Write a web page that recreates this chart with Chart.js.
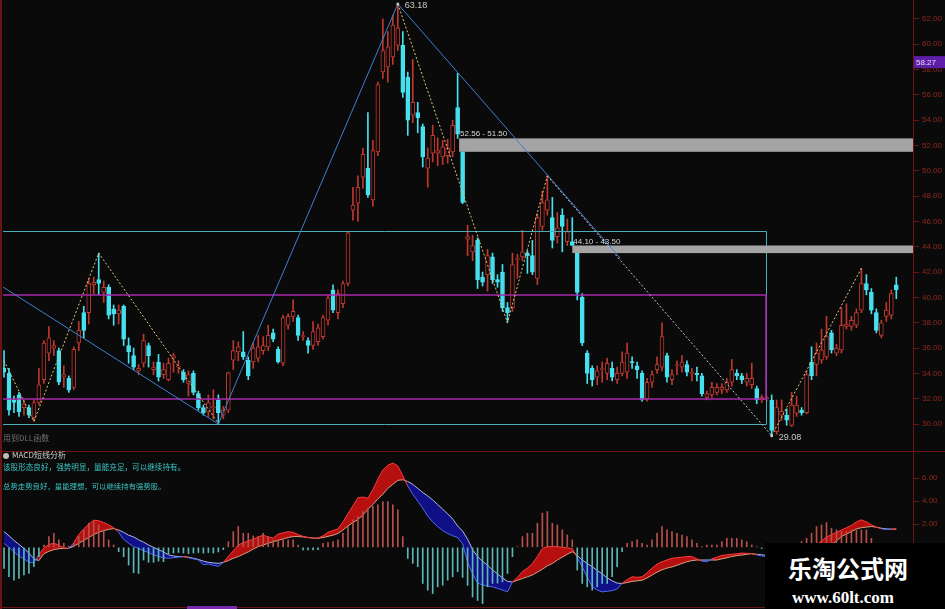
<!DOCTYPE html>
<html>
<head>
<meta charset="utf-8">
<script src="https://cdn.jsdelivr.net/npm/chart.js@4.4.1/dist/chart.umd.min.js"></script>
<style>
  body { margin: 0; background: #0a0a0a; }
  #wrap { position: relative; width: 945px; height: 609px; overflow: hidden; background: #0a0a0a;
          font-family: "Noto Sans CJK SC", "Noto Sans", sans-serif; }
  canvas { position: absolute; left: 0; }
  #c1 { top: 0; }
  #c2 { top: 451px; }
  .line { position: absolute; background: #6a1515; }
  .txt { position: absolute; white-space: nowrap; line-height: 1; }
  #wm { position: absolute; left: 765px; top: 543px; width: 180px; height: 66px; background: #000; }
</style>
</head>
<body>
<div id="wrap">
  <canvas id="c1" width="945" height="451"></canvas>
  <canvas id="c2" width="945" height="158"></canvas>
  <div class="line" style="left:0;top:0;width:2px;height:609px"></div>
  <div class="line" style="left:0;top:451px;width:945px;height:1px"></div>
  <div class="line" style="left:0;top:607px;width:945px;height:1px"></div>
  <div style="position:absolute;left:187px;top:606px;width:50px;height:3px;background:#7a2ab0"></div>

  <div class="txt" style="left:3px;top:434px;font-size:8px;color:#707070">用到DLL函数</div>
  <div class="txt" style="left:3px;top:451px;font-size:8px;color:#d0d0d0">
    <span style="display:inline-block;width:6px;height:6px;border-radius:50%;background:#bbb;vertical-align:-1px;margin-right:3px"></span>MACD短线分析</div>
  <div class="txt" style="left:3px;top:463px;font-size:7.6px;color:#3cc6c6">该股形态良好，强势明显，量能充足，可以继续持有。</div>
  <div class="txt" style="left:3px;top:482px;font-size:7.4px;color:#3cc6c6">总势走势良好，量能理想，可以继续持有强势股。</div>

  <div id="wm">
    <div class="txt" style="left:23px;top:13px;font-size:24px;font-weight:bold;color:#fff">乐淘公式网</div>
    <div class="txt" style="left:27px;top:46px;font-size:17px;font-weight:bold;color:#fff;font-family:'Liberation Serif','DejaVu Serif',serif">www.60lt.com</div>
  </div>
</div>

<script>
// daily candles
const opens = [
  34.4, 34.0, 31.9, 32.3, 31.3, 31.3, 30.5, 31.7, 33.5, 35.6,
  36.0, 35.8, 33.7, 33.6, 32.9, 36.4, 38.8, 38.8, 41.0, 41.4,
  40.4, 40.8, 39.1, 38.7, 39.3, 36.2, 35.4, 34.2, 34.8, 36.2,
  34.3, 34.9, 33.9, 33.5, 35.2, 34.5, 34.1, 33.2, 34.0, 32.4,
  31.3, 30.95, 31.3, 31.9, 30.7, 31.1, 35.05, 35.7, 35.7, 35.05,
  34.9, 35.2, 35.8, 36.1, 37.2, 35.9, 34.8, 37.8, 38.5, 38.4,
  36.9, 36.6, 36.2, 36.5, 36.9, 38.2, 40.6, 38.8, 39.5, 41.1,
  46.9, 47.45, 49.5, 50.2, 47.7, 51.5, 57.8, 58.2, 59.0, 59.9,
  59.9, 57.4, 54.4, 54.6, 53.5, 50.2, 51.4, 51.4, 51.1, 51.2,
  51.5, 55.0, 51.5, 44.6, 43.6, 44.5, 41.6, 41.8, 43.2, 41.4,
  42.0, 39.2, 39.2, 43.0, 43.2, 43.5, 43.3, 41.5, 45.6, 46.9,
  46.3, 44.8, 46.5, 44.4, 44.4, 43.5, 40.0, 35.6, 34.4, 33.7,
  34.3, 34.0, 34.4, 33.5, 34.0, 34.1, 34.9, 34.6, 34.0, 32.0,
  33.3, 34.3, 34.5, 35.4, 33.5, 34.6, 34.5, 34.7, 34.0, 34.0,
  33.8, 32.1, 32.3, 32.5, 32.7, 32.7, 33.3, 34.0, 33.8, 33.3,
  33.1, 32.8, 31.9, 32.0, 31.9, 29.4, 30.7, 30.7, 29.9, 30.85,
  31.1, 30.9, 34.9, 34.7, 35.05, 35.3, 37.2, 35.6, 35.85, 37.7,
  37.7, 37.8, 39.0, 41.1, 40.4, 38.8, 37.0, 38.5, 38.6, 41.0
];
const closes = [
  34.1, 31.1, 31.7, 30.95, 31.6, 30.7, 31.7, 33.1, 36.4, 36.8,
  36.2, 33.3, 33.9, 32.7, 35.9, 37.4, 37.4, 41.1, 41.2, 41.1,
  40.8, 38.6, 38.7, 39.0, 36.7, 35.7, 34.5, 34.4, 36.6, 35.4,
  34.5, 33.7, 34.3, 34.8, 35.4, 34.5, 33.5, 33.9, 32.5, 31.3,
  30.9, 31.7, 31.3, 30.9, 31.1, 34.05, 35.8, 36.1, 35.3, 33.8,
  36.0, 36.1, 36.2, 37.0, 36.7, 34.9, 38.4, 38.5, 38.9, 37.0,
  36.9, 36.2, 37.3, 37.6, 38.4, 39.95, 39.0, 40.3, 41.1, 45.1,
  47.3, 48.7, 51.3, 48.1, 51.6, 56.8, 59.5, 59.8, 61.5, 61.3,
  56.2, 54.0, 55.4, 54.2, 51.1, 51.0, 52.8, 51.6, 51.9, 51.8,
  53.6, 52.9, 47.5, 44.8, 44.1, 41.4, 41.2, 43.3, 41.4, 41.2,
  39.2, 38.8, 42.6, 43.0, 43.6, 43.3, 42.0, 46.3, 47.5, 47.7,
  44.5, 45.5, 45.6, 45.2, 44.1, 40.4, 36.4, 34.0, 33.5, 34.2,
  34.3, 34.8, 33.7, 34.0, 34.9, 35.6, 34.85, 34.3, 31.9, 33.3,
  33.9, 34.7, 36.9, 33.7, 33.9, 34.6, 34.9, 34.1, 34.0, 33.9,
  32.4, 32.4, 32.9, 32.9, 32.9, 33.3, 34.3, 33.8, 33.5, 33.6,
  33.6, 31.9, 32.1, 32.0, 29.5, 31.3, 31.0, 30.3, 31.5, 31.5,
  30.9, 33.9, 33.8, 35.6, 35.85, 36.9, 35.85, 36.0, 37.8, 37.9,
  38.2, 38.8, 41.1, 40.6, 39.0, 37.4, 38.0, 39.0, 40.3, 40.6
];
const highs = [
  35.8, 34.4, 32.2, 32.5, 31.9, 31.5, 31.9, 34.4, 36.6, 37.7,
  36.6, 36.0, 34.6, 33.8, 36.1, 38.1, 39.3, 41.5, 41.6, 43.5,
  41.3, 41.0, 39.4, 39.4, 39.4, 36.8, 36.0, 34.7, 37.1, 36.4,
  34.9, 35.5, 34.8, 35.2, 35.6, 35.0, 34.3, 34.2, 34.2, 32.6,
  31.5, 32.3, 32.7, 32.3, 31.4, 34.1, 36.6, 36.5, 37.3, 35.3,
  36.4, 37.0, 36.9, 37.8, 37.5, 36.1, 38.6, 38.7, 39.8, 38.6,
  37.3, 36.8, 38.1, 37.9, 38.6, 40.2, 41.0, 40.6, 41.3, 45.2,
  48.7, 49.6, 51.8, 54.6, 52.4, 57.0, 62.0, 61.0, 62.3, 63.18,
  61.0, 57.8, 58.8, 55.4, 53.7, 51.8, 53.6, 52.6, 52.4, 52.5,
  54.0, 57.7, 51.5, 45.7, 44.9, 44.7, 42.0, 43.8, 43.5, 41.8,
  42.6, 39.6, 43.5, 43.4, 45.3, 43.7, 44.5, 46.6, 48.4, 49.6,
  47.9, 46.7, 47.0, 46.2, 46.3, 43.5, 40.3, 35.8, 34.6, 34.6,
  34.9, 35.2, 34.9, 34.5, 35.7, 36.4, 35.3, 34.9, 34.2, 33.6,
  34.2, 35.3, 38.0, 35.6, 34.3, 35.0, 35.4, 35.0, 34.4, 34.5,
  34.0, 32.6, 33.3, 33.2, 33.2, 33.6, 35.1, 34.3, 34.0, 34.0,
  34.8, 33.0, 32.3, 32.2, 32.3, 31.9, 31.9, 31.2, 32.5, 32.2,
  31.3, 34.2, 36.1, 36.4, 37.5, 38.5, 37.4, 36.3, 39.2, 39.5,
  38.5, 39.1, 42.3, 41.8, 40.7, 39.1, 38.2, 39.6, 40.6, 41.6
];
const lows = [
  33.7, 30.7, 30.9, 30.6, 30.7, 30.5, 30.2, 31.5, 33.2, 35.0,
  35.4, 33.1, 32.9, 32.5, 32.7, 35.8, 36.8, 37.9, 40.3, 40.2,
  39.6, 38.3, 37.8, 37.9, 36.2, 34.8, 34.3, 33.9, 34.5, 34.5,
  33.9, 33.4, 33.6, 33.4, 34.1, 34.0, 33.3, 32.2, 32.3, 31.1,
  30.7, 30.6, 30.4, 30.0, 30.4, 30.9, 34.3, 35.0, 35.1, 33.5,
  34.4, 34.9, 35.5, 35.8, 36.5, 34.8, 34.6, 37.5, 38.1, 36.6,
  36.6, 35.6, 35.9, 36.2, 36.7, 37.8, 38.8, 38.3, 39.2, 40.9,
  46.1, 46.0, 48.6, 47.9, 47.2, 51.2, 57.3, 57.0, 58.4, 59.5,
  55.8, 52.8, 53.8, 53.0, 50.3, 48.7, 50.7, 50.4, 50.5, 50.6,
  51.1, 52.56, 47.4, 43.3, 42.9, 40.7, 40.9, 40.5, 41.1, 40.8,
  38.9, 38.0, 38.9, 41.5, 42.9, 41.9, 41.8, 41.0, 45.3, 46.5,
  43.9, 44.3, 43.6, 44.1, 44.1, 39.8, 36.2, 33.2, 33.0, 33.1,
  33.3, 33.5, 33.4, 33.2, 33.8, 33.6, 34.4, 33.6, 31.8, 31.8,
  32.9, 34.0, 34.2, 33.3, 33.1, 33.9, 34.1, 33.8, 33.4, 33.4,
  32.2, 31.9, 32.1, 32.3, 32.4, 32.5, 33.0, 33.5, 33.2, 33.0,
  32.8, 31.6, 31.7, 31.8, 29.08, 29.2, 30.3, 29.9, 29.8, 30.6,
  30.7, 30.8, 33.5, 33.8, 34.8, 35.1, 35.6, 35.4, 35.6, 37.5,
  37.4, 37.6, 38.8, 40.2, 38.7, 37.2, 36.8, 38.1, 38.3, 39.9
];

// MACD panel
const difLine = [
  0.35, 0.0, -0.4, -0.75, -1.0, -1.3, -1.35, -0.6, -0.05, 0.25,
  0.35, 0.2, -0.05, -0.1, 0.4, 1.1, 1.6, 2.0, 2.35, 2.3,
  2.15, 1.95, 1.7, 1.3, 0.7, 0.35, 0.05, -0.1, -0.3, -0.45,
  -0.65, -0.8, -0.9, -0.95, -0.9, -0.85, -0.8, -0.9, -1.0, -1.1,
  -1.5, -1.45, -1.55, -1.65, -1.3, -0.8, -0.3, 0.2, 0.4, 0.55,
  0.7, 0.9, 1.05, 0.9, 0.8, 1.15, 1.25, 1.35, 1.3, 1.1,
  0.95, 0.85, 0.8, 0.8, 1.0, 1.3, 1.45, 1.6, 2.2, 2.9,
  3.6, 4.3, 4.35, 4.25, 5.0, 5.9, 6.7, 7.1, 7.3, 7.05,
  6.2, 5.3, 4.6, 4.0, 3.4, 2.7, 2.2, 1.8, 1.45, 1.2,
  1.0, 0.85, 0.3, -1.3, -2.3, -3.1, -3.25, -3.35, -3.42, -3.55,
  -3.7, -3.85, -3.0, -2.6, -2.1, -1.8, -1.4, -0.8, -0.1, 0.06,
  0.06, 0.06, 0.0, -0.05, -0.1, -0.9, -1.7, -2.6, -3.4, -3.7,
  -3.86, -3.8, -3.75, -3.6, -3.1, -2.8, -2.55, -2.6, -2.55, -2.2,
  -1.8, -1.45, -1.25, -1.1, -0.95, -0.9, -0.85, -0.8, -0.8, -1.0,
  -1.2, -1.25, -1.0, -0.85, -0.7, -0.65, -0.6, -0.55, -0.5, -0.52,
  -0.55, -0.65, -0.75, -0.8, -1.1, -1.2, -1.2, -1.15, -1.05, -0.95,
  -0.7, -0.45, -0.15, 0.2, 0.55, 0.9, 1.1, 1.3, 1.5, 1.7,
  1.9, 2.2, 2.38, 2.2, 1.95, 1.75, 1.6, 1.55, 1.58, 1.6
];
const deaLine = [
  1.36, 1.0, 0.6, 0.25, -0.1, -0.5, -1.0, -1.15, -0.55, -0.35,
  -0.2, -0.12, -0.09, -0.08, 0.1, 0.35, 0.6, 0.85, 1.1, 1.3,
  1.45, 1.55, 1.62, 1.5, 1.3, 1.05, 0.9, 0.65, 0.45, 0.2,
  0.0, -0.2, -0.4, -0.65, -0.75, -0.8, -0.81, -0.85, -0.95, -1.05,
  -1.2, -1.3, -1.35, -1.39, -1.3, -1.15, -0.95, -0.8, -0.6, -0.4,
  -0.15, 0.06, 0.2, 0.35, 0.49, 0.6, 0.72, 0.85, 0.93, 0.93,
  0.9, 0.85, 0.8, 0.78, 0.85, 0.95, 1.05, 1.2, 1.5, 1.85,
  2.15, 2.4, 2.8, 3.3, 3.7, 4.2, 4.6, 5.1, 5.45, 5.8,
  5.85, 5.7, 5.45, 5.1, 4.75, 4.45, 4.1, 3.7, 3.3, 2.9,
  2.45, 1.85, 1.4, 0.7, -0.2, -0.8, -1.2, -1.55, -1.95, -2.3,
  -2.65, -2.95, -3.0, -2.85, -2.7, -2.55, -2.4, -2.15, -1.9, -1.6,
  -1.4, -1.1, -0.85, -0.6, -0.38, -0.7, -1.1, -1.4, -1.68, -2.0,
  -2.3, -2.65, -2.9, -3.1, -3.13, -3.05, -2.95, -2.9, -2.85, -2.65,
  -2.4, -2.15, -1.95, -1.8, -1.7, -1.55, -1.4, -1.25, -1.15, -1.1,
  -1.1, -1.1, -1.1, -1.1, -1.0, -0.9, -0.8, -0.72, -0.67, -0.6,
  -0.55, -0.6, -0.65, -0.7, -0.8, -0.9, -0.95, -1.0, -1.0, -1.0,
  -0.95, -0.85, -0.7, -0.5, -0.25, 0.0, 0.2, 0.55, 0.93, 1.15,
  1.35, 1.6, 1.7, 1.75, 1.8, 1.75, 1.65, 1.6, 1.57, 1.57
];
const macdHist = [
  -1.83, -2.55, -2.84, -2.7, -2.4, -2.26, -1.68, -0.8, 0.2, 0.93,
  1.22, 0.64, 0.35, 0.1, 0.35, 0.93, 1.51, 2.09, 2.23, 1.94,
  1.51, 0.64, 0.2, -0.38, -0.81, -1.54, -2.2, -2.26, -1.1, -1.3,
  -1.3, -1.2, -1.25, -0.55, -0.5, -0.45, -0.5, -0.55, -0.5, -0.45,
  -0.5, -0.45, -0.5, -0.4, -0.2, 0.49, 1.36, 1.8, 1.22, 1.22,
  0.99, 0.93, 1.22, 0.93, 0.64, 0.64, 0.64, 0.64, 0.64, 0.2,
  -0.23, -0.23, -0.23, -0.2, 0.35, 0.4, 0.49, 0.64, 1.22, 1.8,
  2.38, 2.67, 3.1, 3.39, 3.54, 3.68, 3.97, 3.97, 3.68, 3.25,
  0.93, -0.96, -1.39, -1.68, -3.13, -3.71, -4.0, -3.42, -3.28, -2.84,
  -2.55, -2.12, -2.6, -3.3, -4.3, -4.6, -4.87, -3.42, -3.13, -3.1,
  -2.99, -2.26, -0.81, 0.05, 0.93, 1.22, 1.22, 2.09, 2.96, 3.1,
  2.09, 1.94, 1.51, 1.07, 0.64, -1.97, -3.13, -3.42, -3.71, -3.42,
  -3.13, -3.13, -2.55, -1.68, -0.38, 0.35, 0.49, 0.64, 0.35, 0.2,
  0.64, 1.22, 1.8, 1.51, 1.36, 1.22, 1.07, 0.93, 0.64, 0.35,
  0.06, 0.2, 0.2, 0.2, 0.49, 0.78, 0.78, 0.78, 0.64, 0.49,
  0.2, 0.05, -0.1, -0.2, -0.6, -0.6, -0.5, -0.3, -0.1, 0.1,
  0.5, 0.78, 1.22, 1.8, 1.94, 2.14, 1.65, 1.51, 1.36, 1.36,
  1.51, 1.51, 1.51, 1.51, 0.78, 0.2, -0.1, -0.1, 0.05, 0.05
];

const priceTicks = [30, 32, 34, 36, 38, 40, 42, 44, 46, 48, 50, 52, 54, 56, 58, 60, 62];
const macdTicks = [-4, -2, 0, 2, 4, 6];

// drawn studies, in (bar index, price)
const yellowZigzags = [
  [[0, 35.0], [6, 30.2], [19, 43.5], [43, 30.05]],
  [[79, 63.18], [101, 38.0], [109, 49.6]],
  [[154, 29.08], [172, 42.3]]
];
const whiteDotted = [[109, 49.6], [154, 29.08]];
const blueLines = [
  [[-0.2, 40.82], [43, 30.0]],
  [[43, 30.0], [79, 63.18]],
  [[79, 63.18], [123.6, 43.1]]
];
const gapZones = [
  { from: 91.3, hi: 52.56, lo: 51.50, label: '52.56 - 51.50' },
  { from: 114.0, hi: 44.10, lo: 43.50, label: '44.10 - 43.50' }
];
const rangeBoxes = [
  { to: 152.9, hi: 45.25, lo: 30.0, color: '#4cacb6', w: 1 },
  { to: 152.9, hi: 40.23, lo: 31.94, color: '#a52aaa', w: 1.6 }
];
const extremes = [[79, 63.18], [154, 29.08]];
const lastTag = 58.27;

const RED = '#bd382e';
const CYAN = '#46e0ee';
const BG = '#0a0a0a';
const AXIS = '#6a1515';
const TICKTXT = '#93291f';

const idx = opens.map((_, i) => i);
const up = idx.map(i => closes[i] >= opens[i]);

const xScale = { type: 'linear', min: -0.2, max: 182.35, display: false, offset: false };

function rightAxis(min, max, ticks) {
  return {
    position: 'right', min: min, max: max,
    afterBuildTicks: s => { s.ticks = ticks.map(v => ({ value: v })); },
    afterFit: s => { s.width = 32; s.paddingTop = 0; s.paddingBottom = 0; },
    grid: { drawOnChartArea: false, color: AXIS, tickColor: AXIS, tickLength: 6 },
    border: { color: AXIS, width: 1 },
    ticks: { color: TICKTXT, padding: 3, autoSkip: false, font: { size: 8, family: 'Liberation Sans' },
             callback: v => Number(v).toFixed(2) }
  };
}

// trend lines, boxes and labels on the price panel
const studies = {
  id: 'studies',
  afterDatasetsDraw(chart) {
    const { ctx, chartArea: a } = chart;
    const px = v => chart.scales.x.getPixelForValue(v);
    const py = v => chart.scales.y.getPixelForValue(v);
    ctx.save();
    ctx.beginPath();
    ctx.rect(a.left, a.top, a.right - a.left, a.bottom - a.top);
    ctx.clip();

    rangeBoxes.forEach(b => {
      const off = b.w === 1 ? 0.5 : 0;
      const t = Math.round(py(b.hi)) + off, btm = Math.round(py(b.lo)) + off, r = Math.round(px(b.to)) + off;
      ctx.strokeStyle = b.color;
      ctx.lineWidth = b.w;
      ctx.beginPath();
      ctx.moveTo(a.left, t); ctx.lineTo(r, t); ctx.lineTo(r, btm); ctx.lineTo(a.left, btm);
      ctx.stroke();
    });

    gapZones.forEach(g => {
      ctx.fillStyle = '#a4a4a4';
      ctx.fillRect(px(g.from), py(g.hi), a.right - px(g.from), py(g.lo) - py(g.hi));
    });

    const path = (pts, color, dash) => {
      ctx.strokeStyle = color;
      ctx.lineWidth = 1;
      ctx.setLineDash(dash);
      ctx.beginPath();
      pts.forEach((p, k) => k ? ctx.lineTo(px(p[0]), py(p[1])) : ctx.moveTo(px(p[0]), py(p[1])));
      ctx.stroke();
    };
    blueLines.forEach(l => path(l, '#3f7fd0', []));
    yellowZigzags.forEach(z => path(z, '#e2c878', [2, 2]));
    path(whiteDotted, '#c8c8c8', [2, 2]);
    ctx.setLineDash([]);
    ctx.restore();

    ctx.save();
    ctx.font = '8px "Liberation Sans"';
    ctx.fillStyle = '#d6d6d6';
    gapZones.forEach(g => ctx.fillText(g.label, px(g.from) + 1, py(g.hi) - 2));
    ctx.fillStyle = '#c8c8c8';
    ctx.font = '9px "Liberation Sans"';
    extremes.forEach(e => {
      const x = px(e[0]), y = py(e[1]);
      ctx.beginPath();
      ctx.arc(x, y, 1.5, 0, Math.PI * 2);
      ctx.fill();
      ctx.fillText(e[1].toFixed(2), x + 7, y + 4);
    });
    // last value tag on the axis
    const ty = py(lastTag);
    ctx.fillStyle = '#5e1ea6';
    ctx.fillRect(a.right + 1, ty - 10, 944 - a.right, 12);
    ctx.fillStyle = '#e6dcff';
    ctx.font = '8px "Liberation Sans"';
    ctx.fillText(lastTag.toFixed(2), a.right + 3, ty - 1);
    ctx.restore();
  }
};

new Chart(document.getElementById('c1'), {
  type: 'bar',
  data: {
    datasets: [
      {
        data: idx.map(i => ({ x: i, y: [lows[i], highs[i]] })),
        backgroundColor: idx.map(i => up[i] ? RED : CYAN),
        barThickness: 1, grouped: false, order: 2
      },
      {
        data: idx.map(i => ({ x: i, y: [opens[i], closes[i]] })),
        backgroundColor: idx.map(i => up[i] ? BG : CYAN),
        borderColor: idx.map(i => up[i] ? RED : CYAN),
        borderWidth: 1, borderSkipped: false, barThickness: 4, minBarLength: 1,
        grouped: false, order: 1
      }
    ]
  },
  options: {
    responsive: false, animation: false, events: [],
    layout: { padding: { left: 3, right: 0, top: 0, bottom: 0 } },
    plugins: { legend: { display: false }, tooltip: { enabled: false } },
    scales: { x: xScale, y: rightAxis(27.87, 63.49, priceTicks) }
  },
  plugins: [studies]
});

new Chart(document.getElementById('c2'), {
  type: 'bar',
  data: {
    datasets: [
      {
        data: idx.map(i => ({ x: i, y: macdHist[i] })),
        backgroundColor: idx.map(i => macdHist[i] >= 0 ? '#b5504a' : '#5cb6b8'),
        barThickness: 1, grouped: false, order: 0
      },
      {
        type: 'line',
        data: idx.map(i => ({ x: i, y: difLine[i] })),
        borderWidth: 1, pointRadius: 0, tension: 0, order: 1,
        segment: { borderColor: c => difLine[c.p0DataIndex] >= deaLine[c.p0DataIndex] ? '#ff3b3b' : '#4d6cf2' },
        fill: { target: 2, above: 'rgba(196,16,16,0.92)', below: 'rgba(18,16,140,0.95)' }
      },
      {
        type: 'line',
        data: idx.map(i => ({ x: i, y: deaLine[i] })),
        borderWidth: 1, pointRadius: 0, tension: 0, order: 2,
        segment: { borderColor: c => difLine[c.p0DataIndex] >= deaLine[c.p0DataIndex] ? '#e0a07c' : '#a8bce8' }
      }
    ]
  },
  options: {
    responsive: false, animation: false, events: [],
    layout: { padding: { left: 3, right: 0, top: 0, bottom: 0 } },
    plugins: { legend: { display: false }, tooltip: { enabled: false }, filler: { drawTime: 'beforeDatasetsDraw' } },
    scales: { x: xScale, y: rightAxis(-5.34, 8.34, macdTicks) }
  }
});
</script>
</body>
</html>
